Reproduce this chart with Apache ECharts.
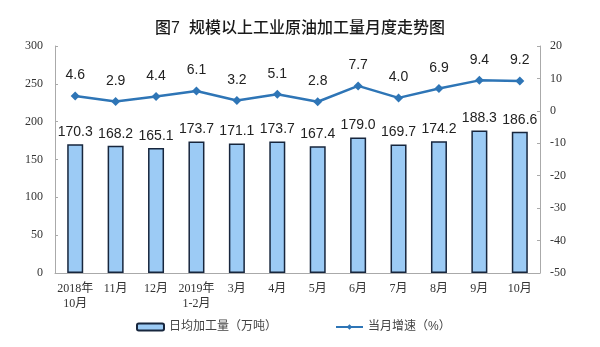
<!DOCTYPE html>
<html>
<head>
<meta charset="utf-8">
<script src="https://cdn.jsdelivr.net/npm/echarts@6/dist/echarts.min.js"></script>
<style>
  html, body { margin: 0; padding: 0; background: #fff; }
  #chart { width: 600px; height: 347px; }
</style>
</head>
<body>
<div id="chart"></div>
<script>
// Monthly crude oil processing of industrial enterprises above designated size
const categories = ['2018年\n10月', '11月', '12月', '2019年\n1-2月', '3月', '4月', '5月', '6月', '7月', '8月', '9月', '10月'];
const dailyOutput = [170.3, 168.2, 165.1, 173.7, 171.1, 173.7, 167.4, 179.0, 169.7, 174.2, 188.3, 186.6];
const monthlyGrowth = [4.6, 2.9, 4.4, 6.1, 3.2, 5.1, 2.8, 7.7, 4.0, 6.9, 9.4, 9.2];

const serif = '"Liberation Serif", "Noto Sans CJK SC", serif';
const sans = '"Liberation Sans", "Noto Sans CJK SC", sans-serif';

const chart = echarts.init(document.getElementById('chart'));
chart.setOption({
  animation: false,
  title: {
    text: '图7  规模以上工业原油加工量月度走势图',
    left: 'center',
    top: 16,
    textStyle: { fontFamily: sans, fontSize: 16, fontWeight: 500, color: '#1a1a1a' }
  },
  legend: {
    bottom: 9,
    left: 131,
    itemGap: 58,
    itemWidth: 27,
    itemHeight: 7,
    textStyle: { fontFamily: sans, fontSize: 12, color: '#444' },
    data: [
      { name: '日均加工量（万吨）', icon: 'roundRect' },
      { name: '当月增速（%）' }
    ]
  },
  grid: { left: 55, right: 60, top: 46, bottom: 74 },
  xAxis: {
    type: 'category',
    data: categories,
    axisLine: { lineStyle: { color: '#aaa' } },
    axisTick: { inside: true, length: 3, lineStyle: { color: '#aaa' } },
    axisLabel: { fontFamily: serif, fontSize: 12, color: '#333', margin: 8, lineHeight: 15, interval: 0 }
  },
  yAxis: [
    {
      type: 'value', min: 0, max: 300, interval: 50,
      axisLine: { show: true, lineStyle: { color: '#aaa' } },
      axisTick: { show: true, inside: true, length: 3, lineStyle: { color: '#aaa' } },
      splitLine: { show: false },
      axisLabel: { fontFamily: serif, fontSize: 12, color: '#333', margin: 12 }
    },
    {
      type: 'value', min: -50, max: 20, interval: 10,
      axisLine: { show: true, lineStyle: { color: '#aaa' } },
      axisTick: { show: true, inside: true, length: 3, lineStyle: { color: '#aaa' } },
      splitLine: { show: false },
      axisLabel: { fontFamily: serif, fontSize: 12, color: '#333', margin: 10 }
    }
  ],
  series: [
    {
      name: '日均加工量（万吨）',
      type: 'bar',
      data: dailyOutput,
      barWidth: 16,
      itemStyle: { color: '#9ccbf5', borderColor: '#17263d', borderWidth: 1.5 },
      label: {
        show: true, position: 'top', distance: 5,
        fontFamily: sans, fontSize: 14, color: '#222',
        formatter: p => p.value.toFixed(1)
      }
    },
    {
      name: '当月增速（%）',
      type: 'line',
      yAxisIndex: 1,
      data: monthlyGrowth,
      symbol: 'diamond',
      symbolSize: 9,
      lineStyle: { color: '#2e75b6', width: 2.5 },
      itemStyle: { color: '#2e75b6' },
      label: {
        show: true, position: 'top', distance: 9,
        fontFamily: sans, fontSize: 14, color: '#222',
        formatter: p => p.value.toFixed(1)
      }
    }
  ]
});
</script>
</body>
</html>
